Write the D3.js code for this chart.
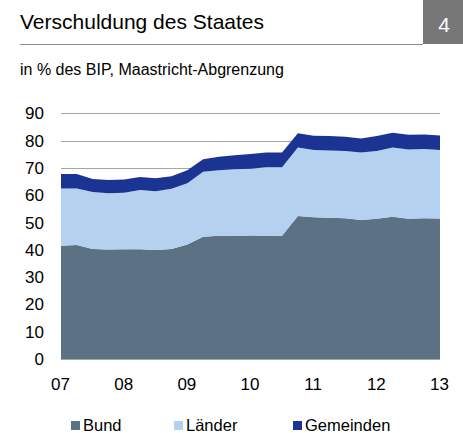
<!DOCTYPE html>
<html>
<head>
<meta charset="utf-8">
<script src="https://d3js.org/d3.v7.min.js"></script>
<style>
  body { margin: 0; background: #fff; }
  svg text { font-family: "Liberation Sans", Arial, sans-serif; fill: #000; }
</style>
</head>
<body>
<div id="chart"></div>
<script>
// Quartale 2007Q1 .. 2013Q1
var quarters = d3.range(25).map(function (i) { return 2007 + i * 0.25; });

var bund = [41.5, 41.8, 40.3, 40.1, 40.2, 40.2, 39.9, 40.3, 42.0, 44.8, 45.2, 45.2, 45.3,
  45.2, 45.2, 52.4, 51.9, 51.8, 51.6, 50.9, 51.4, 52.1, 51.4, 51.6, 51.5];
var laender = [21.0, 20.7, 20.9, 20.6, 20.7, 21.7, 21.6, 22.1, 22.4, 23.8, 24.0, 24.3, 24.4,
  25.1, 25.1, 25.1, 24.7, 24.6, 24.6, 24.8, 24.8, 25.4, 25.4, 25.4, 25.1];
var gemeinden = [5.3, 5.3, 4.8, 4.9, 4.9, 4.8, 4.7, 4.6, 4.8, 4.6, 4.9, 5.2, 5.4,
  5.4, 5.4, 5.2, 5.2, 5.3, 5.2, 5.1, 5.5, 5.4, 5.4, 5.3, 5.3];

var seriesNames = ["Bund", "Länder", "Gemeinden"];
var yTicks = [0, 10, 20, 30, 40, 50, 60, 70, 80, 90];
var xTicks = [2007, 2008, 2009, 2010, 2011, 2012, 2013];
var xTickLabels = ["07", "08", "09", "10", "11", "12", "13"];

var colors = ["#5d7185", "#b4d2ef", "#1b3494"];

var width = 463, height = 433;

var svg = d3.select("#chart")
  .append("svg")
  .attr("width", width)
  .attr("height", height);

// Kopfzeile
svg.append("text")
  .attr("x", 20)
  .attr("y", 29)
  .style("font-size", "21px")
  .text("Verschuldung des Staates");

svg.append("rect")
  .attr("x", 423)
  .attr("y", 0)
  .attr("width", 40)
  .attr("height", 44)
  .attr("fill", "#777777");

svg.append("text")
  .attr("x", 444)
  .attr("y", 32)
  .attr("text-anchor", "middle")
  .style("font-size", "21px")
  .style("fill", "#fff")
  .text("4");

svg.append("line")
  .attr("x1", 20)
  .attr("x2", 423)
  .attr("y1", 44.5)
  .attr("y2", 44.5)
  .style("stroke", "#8c8c8c")
  .style("stroke-width", "1px");

svg.append("text")
  .attr("x", 20)
  .attr("y", 75)
  .style("font-size", "16px")
  .text("in % des BIP, Maastricht-Abgrenzung");

// Skalen
var x = d3.scaleLinear().domain([2007, 2013]).range([61, 440]);
var y = d3.scaleLinear().domain([0, 90]).range([359, 113.4]);

// Gitterlinien
svg.append("g")
  .attr("class", "grid")
  .selectAll("line")
  .data(yTicks)
  .enter()
  .append("line")
  .attr("x1", x(2007))
  .attr("x2", x(2013))
  .attr("y1", function (d) { return Math.round(y(d)) + 0.5; })
  .attr("y2", function (d) { return Math.round(y(d)) + 0.5; })
  .style("stroke", "#a6a6a6")
  .style("stroke-width", "1px");

// Daten stapeln
var table = quarters.map(function (q, i) {
  return { date: q, Bund: bund[i], "Länder": laender[i], Gemeinden: gemeinden[i] };
});

var stacked = d3.stack().keys(seriesNames)(table);

var area = d3.area()
  .x(function (d) { return x(d.data.date); })
  .y0(function (d) { return y(d[0]); })
  .y1(function (d) { return y(d[1]); });

svg.append("g")
  .selectAll("path")
  .data(stacked)
  .enter()
  .append("path")
  .attr("d", area)
  .attr("fill", function (d, i) { return colors[i]; });

// Y-Achse
var yAxis = d3.axisLeft(y).tickValues(yTicks).tickSize(0).tickPadding(0);
svg.append("g")
  .attr("class", "y axis")
  .attr("transform", "translate(44,0)")
  .call(yAxis)
  .call(function (g) { g.select(".domain").remove(); })
  .selectAll("text")
  .style("font-size", "17px")
  .attr("font-family", null);

// X-Achse
var xAxis = d3.axisBottom(x)
  .tickValues(xTicks)
  .tickSize(0)
  .tickPadding(0)
  .tickFormat(function (d, i) { return xTickLabels[i]; });
svg.append("g")
  .attr("class", "x axis")
  .attr("transform", "translate(-1,378)")
  .call(xAxis)
  .call(function (g) { g.select(".domain").remove(); })
  .selectAll("text")
  .style("font-size", "17px")
  .attr("font-family", null);

// Legende
var legendX = [71, 174, 293];
var legend = svg.append("g")
  .selectAll("g")
  .data(seriesNames)
  .enter()
  .append("g")
  .attr("transform", function (d, i) { return "translate(" + legendX[i] + ",421)"; });

legend.append("rect")
  .attr("width", 9)
  .attr("height", 9)
  .attr("fill", function (d, i) { return colors[i]; });

legend.append("text")
  .attr("x", 12)
  .attr("y", 10)
  .style("font-size", "16.5px")
  .text(function (d) { return d; });
</script>
</body>
</html>
